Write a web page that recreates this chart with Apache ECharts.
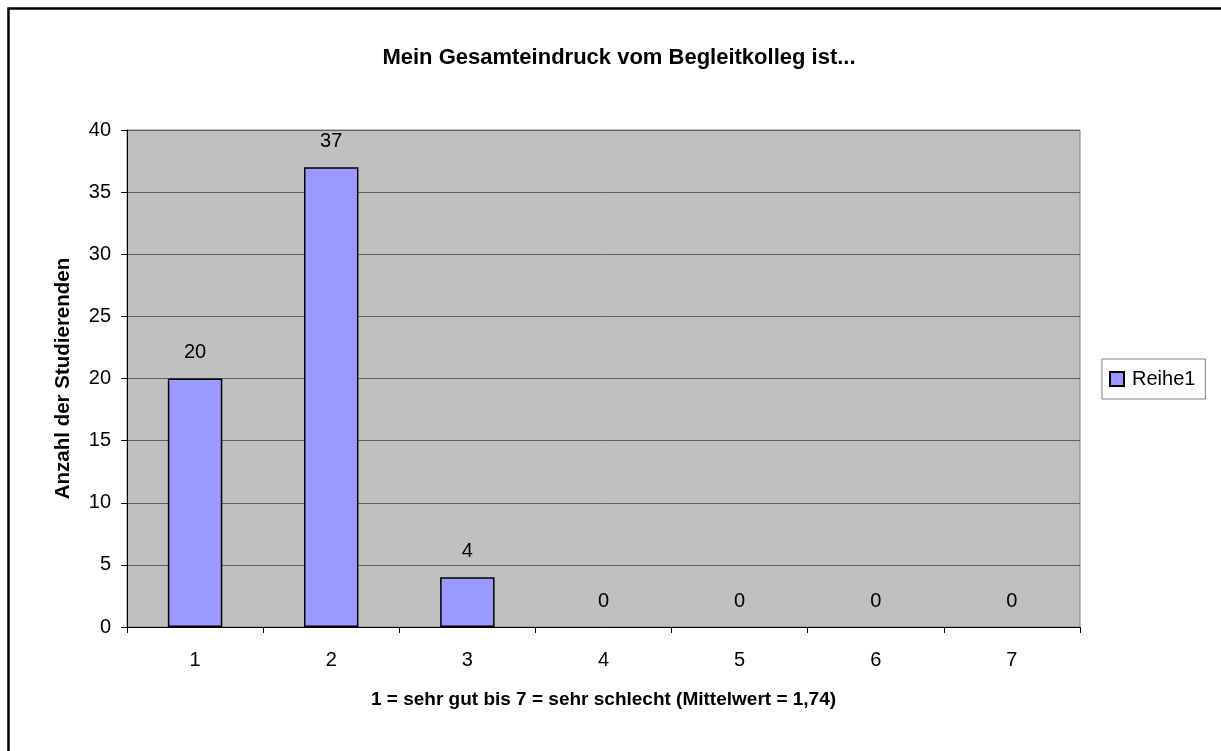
<!DOCTYPE html>
<html>
<head>
<meta charset="utf-8">
<script src="https://cdn.jsdelivr.net/npm/echarts@6/dist/echarts.min.js"></script>
<style>
  html, body { margin: 0; padding: 0; background: #fff; }
  #main { width: 1221px; height: 751px; }
</style>
</head>
<body>
<div id="main"></div>
<script>
// Werte
const categories = ["1", "2", "3", "4", "5", "6", "7"]
const values = [20, 37, 4, 0, 0, 0, 0]
const seriesName = "Reihe1"
const titleText = "Mein Gesamteindruck vom Begleitkolleg ist..."
const xName = "1 = sehr gut bis 7 = sehr schlecht (Mittelwert = 1,74)"
const yName = "Anzahl der Studierenden"

const font = "'Liberation Sans', Arial, sans-serif"

const myChart = echarts.init(document.getElementById("main"))
myChart.setOption({
  animation: false,
  backgroundColor: "#fff",
  textStyle: { fontFamily: font },
  graphic: [
    {
      // Rahmen um das Diagramm (rechts/unten abgeschnitten)
      type: "rect",
      shape: { x: 8.5, y: 8.5, width: 1400, height: 1000 },
      style: { fill: "none", stroke: "#000", lineWidth: 2.5 },
      silent: true
    }
  ],
  title: {
    text: titleText,
    left: 614,
    textAlign: "center",
    top: 42,
    textStyle: { fontFamily: font, fontSize: 22, fontWeight: "bold", color: "#000" }
  },
  legend: {
    left: 1102,
    top: 359,
    orient: "vertical",
    data: [seriesName],
    icon: "rect",
    itemWidth: 14,
    itemHeight: 14,
    padding: [10, 10, 10, 7],
    backgroundColor: "#fff",
    borderColor: "#808080",
    borderWidth: 1,
    borderRadius: 0,
    textStyle: { fontFamily: font, fontSize: 20, color: "#000", padding: [0, 0, 0, 3] }
  },
  grid: {
    left: 127,
    right: 141,
    top: 130,
    bottom: 124,
    show: true,
    backgroundColor: "#c0c0c0",
    borderColor: "#808080",
    borderWidth: 1,
    containLabel: false
  },
  xAxis: {
    type: "category",
    data: categories,
    name: xName,
    nameLocation: "middle",
    nameGap: 63,
    nameTextStyle: { fontFamily: font, fontSize: 19, fontWeight: "bold", color: "#000" },
    axisLine: { lineStyle: { color: "#000", width: 1 } },
    axisTick: { show: true, length: 6, alignWithLabel: false, lineStyle: { color: "#000" } },
    axisLabel: { fontFamily: font, fontSize: 20, color: "#000", margin: 23 },
    splitLine: { show: false }
  },
  yAxis: {
    type: "value",
    min: 0,
    max: 40,
    interval: 5,
    name: yName,
    nameLocation: "middle",
    nameGap: 53,
    nameRotate: 90,
    nameTextStyle: { fontFamily: font, fontSize: 20.5, fontWeight: "bold", color: "#000" },
    axisLine: { show: true, lineStyle: { color: "#000", width: 1 } },
    axisTick: { show: true, length: 6, lineStyle: { color: "#000" } },
    axisLabel: { fontFamily: font, fontSize: 20, color: "#000", margin: 16 },
    splitLine: { show: true, lineStyle: { color: "#606060", width: 1 } }
  },
  series: [
    {
      name: seriesName,
      type: "bar",
      // Nullwerte ohne Rahmen, damit keine Linie gezeichnet wird
      data: values.map(v => (v === 0 ? { value: v, itemStyle: { borderWidth: 0 } } : v)),
      barWidth: "40%",
      itemStyle: { color: "#9999ff", borderColor: "#000", borderWidth: 1.5 },
      label: {
        show: true,
        position: "top",
        distance: 16,
        fontFamily: font,
        fontSize: 20,
        color: "#000"
      }
    }
  ]
})
</script>
</body>
</html>
